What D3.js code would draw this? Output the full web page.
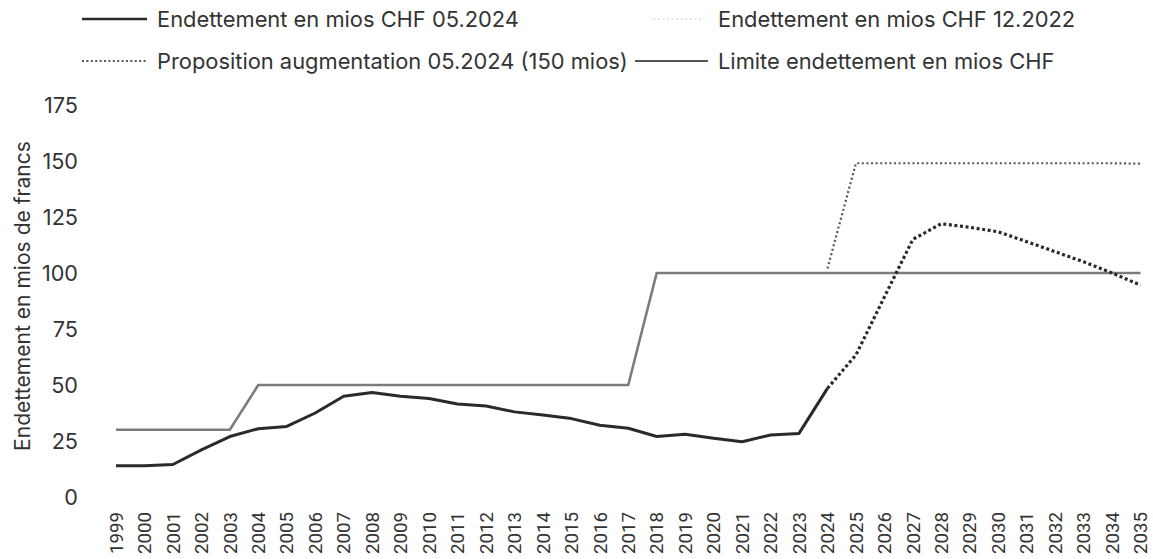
<!DOCTYPE html>
<html><head><meta charset="utf-8">
<script src="https://cdn.jsdelivr.net/npm/d3@7"></script>
<style>
body{margin:0;background:#fff}
svg{display:block}
text{font-family:Inter,"Open Sans",sans-serif;fill:#333}
text.tick{font-family:Roboto,"Liberation Sans",sans-serif;fill:#333}
</style>
</head><body>
<svg id="c" width="1153" height="559"></svg>
<script>
// ---- data ----
const years = [1999,2000,2001,2002,2003,2004,2005,2006,2007,2008,2009,2010,2011,2012,2013,2014,2015,2016,2017,
  2018,2019,2020,2021,2022,2023,2024,2025,2026,2027,2028,2029,2030,2031,2032,2033,2034,2035];
const debtYears = [1999,2000,2001,2002,2003,2004,2005,2006,2007,2008,2009,2010,2011,2012,2013,2014,2015,2016,2017,
  2018,2019,2020,2021,2022,2023,2024];
const debt052024 = [14,14,14.5,21,27,30.5,31.5,37.5,45,46.7,45,44,41.5,40.6,38,36.6,35,32,30.7,
  27,28,26.2,24.7,27.7,28.4,48.5];
const projYears = [2024,2025,2026,2027,2028,2029,2030,2031,2032,2033,2034,2035];
const debtProjection = [48.5,63.4,89.3,115,122,120.4,118.4,114,109.5,105,100,94.6];
const proposition = [102,149,149,149,149,149,149,149,149,149,149,148.8];
const limit = [30,30,30,30,30,50,50,50,50,50,50,50,50,50,50,50,50,50,50,
  100,100,100,100,100,100,100,100,100,100,100,100,100,100,100,100,100,100];
const yTicks = [0,25,50,75,100,125,150,175];
const legendLabels = ["Endettement en mios CHF 05.2024","Endettement en mios CHF 12.2022",
  "Proposition augmentation 05.2024 (150 mios)","Limite endettement en mios CHF"];
const yTitle = "Endettement en mios de francs";

// ---- layout ----
const svg = d3.select("#c");
const x = d3.scalePoint().domain(years).range([116,1140.5]);
const y = d3.scaleLinear().domain([0,175]).range([497,105]);

function fit(str, target, cls){
  const p = svg.append("text").attr("class",cls||null).attr("font-size",18).text(str);
  const w = p.node().getComputedTextLength(); p.remove();
  return 18*target/w;
}
const fs = fit(legendLabels[0], 362);
const fsY = fit("175", 34);
const fsX = fit("1999", 42, "tick");
const fsT = fit(yTitle, 310);

// y tick labels
svg.append("g").selectAll("text").data(yTicks).join("text")
  .attr("x",78).attr("y",d=>y(d)).attr("dy","0.35em")
  .attr("text-anchor","end").attr("font-size",fsY).text(d=>d);

// x tick labels
svg.append("g").selectAll("text").data(years).join("text").attr("class","tick")
  .attr("transform",d=>`translate(${x(d)},512) rotate(-90)`)
  .attr("dy","0.36em").attr("text-anchor","end").attr("font-size",fsX).text(d=>d);

// y title
svg.append("text").attr("transform","translate(23,296) rotate(-90)")
  .attr("dy","0.35em").attr("text-anchor","middle").attr("font-size",fsT).text(yTitle);

// lines
const line = d3.line().x(d=>x(d[0])).y(d=>y(d[1]));
svg.append("path").datum(years.map((yr,i)=>[yr,limit[i]]))
  .attr("d",line).attr("fill","none").attr("stroke","#7c7c7c").attr("stroke-width",2.6);
svg.append("path").datum(projYears.map((yr,i)=>[yr,proposition[i]]))
  .attr("d",line).attr("fill","none").attr("stroke","#555").attr("stroke-width",2.2)
  .attr("stroke-dasharray","2,2.6");
svg.append("path").datum(debtYears.map((yr,i)=>[yr,debt052024[i]]))
  .attr("d",line).attr("fill","none").attr("stroke","#2a2a2a").attr("stroke-width",3)
  .attr("stroke-linejoin","round");
svg.append("path").datum(projYears.map((yr,i)=>[yr,debtProjection[i]]))
  .attr("d",line).attr("fill","none").attr("stroke","#2a2a2a").attr("stroke-width",3.2)
  .attr("stroke-dasharray","3,2.6");

// legend
const leg = svg.append("g");
const items = [
  {t:legendLabels[0], x1:82, x2:147, tx:157, y:19, stroke:"#2a2a2a", w:2.6, dash:null},
  {t:legendLabels[1], x1:653, x2:702, tx:718, y:19, stroke:"#e6e6e6", w:2.2, dash:"2,2.6"},
  {t:legendLabels[2], x1:82, x2:147, tx:157, y:61, stroke:"#555", w:2, dash:"2,2.4"},
  {t:legendLabels[3], x1:635, x2:708, tx:718, y:61, stroke:"#555", w:2, dash:null}
];
items.forEach(it=>{
  leg.append("line").attr("x1",it.x1).attr("x2",it.x2).attr("y1",it.y).attr("y2",it.y)
    .attr("stroke",it.stroke).attr("stroke-width",it.w).attr("stroke-dasharray",it.dash);
  leg.append("text").attr("x",it.tx).attr("y",it.y).attr("dy","0.35em")
    .attr("font-size",fs).text(it.t);
});
</script>
</body></html>
